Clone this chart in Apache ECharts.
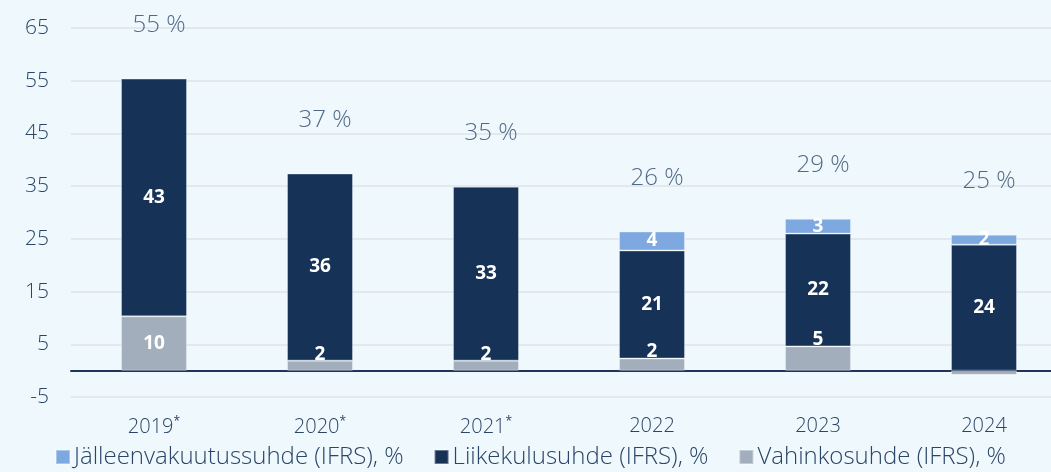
<!DOCTYPE html>
<html>
<head>
<meta charset="utf-8">
<script src="https://cdn.jsdelivr.net/npm/echarts@6/dist/echarts.min.js"></script>
<style>
  html, body { margin: 0; padding: 0; background: #eef8fd; }
  #chart { width: 1051px; height: 472px; }
</style>
</head>
<body>
<div id="chart"></div>
<script>
// Data
const years = ['2019*', '2020*', '2021*', '2022', '2023', '2024'];
const lossRatio = [10.3, 1.9, 1.9, 2.3, 4.6, -0.8];        // Vahinkosuhde
const expenseRatio = [45.1, 35.5, 33.0, 20.5, 21.4, 23.9];  // Liikekulusuhde
const reinsRatio = [null, null, null, 3.6, 2.8, 1.9];       // Jälleenvakuutussuhde
const lossLabels = ['10', '2', '2', '2', '5', ''];
const expenseLabels = ['43', '36', '33', '21', '22', '24'];
const reinsLabels = ['', '', '', '4', '3', '2'];
const totalLabels = ['55 %', '37 %', '35 %', '26 %', '29 %', '25 %'];
const yTicks = [-5, 5, 15, 25, 35, 45, 55, 65];

const textColor = '#2b4566';
const fontFam = '"Open Sans", Lato, sans-serif';

// top of each stacked bar, used to place the total label
const tops = years.map((y, i) => Math.max(lossRatio[i], 0) + expenseRatio[i] + (reinsRatio[i] || 0));

function barLabel(arr, extra) {
  return Object.assign({
    show: true,
    color: '#ffffff',
    fontFamily: fontFam,
    fontWeight: 'bold',
    fontSize: 19,
    formatter: p => arr[p.dataIndex]
  }, extra || {});
}

const lossData = lossRatio.map((v, i) => {
  // small bottom segments have their label sitting just above the segment
  if (v > 0 && v < 6) {
    return { value: v, label: { position: 'top', distance: -3 } };
  }
  return v;
});

const chart = echarts.init(document.getElementById('chart'));

const option = {
  backgroundColor: '#eef8fd',
  animation: false,
  grid: { left: 71, top: 28, width: 996, bottom: 75, outerBoundsMode: 'none', containLabel: false },
  legend: {
    data: ['Jälleenvakuutussuhde (IFRS), %', 'Liikekulusuhde (IFRS), %', 'Vahinkosuhde (IFRS), %'],
    bottom: -2,
    left: 50,
    icon: 'rect',
    itemWidth: 14,
    itemHeight: 14,
    itemGap: 30,
    textStyle: { color: textColor, fontFamily: fontFam, fontWeight: 300, fontSize: 24, padding: [0, 0, 0, -1] }
  },
  xAxis: {
    type: 'category',
    data: years,
    axisTick: { show: false },
    axisLine: { onZero: true, lineStyle: { color: '#1d3659', width: 2 } },
    axisLabel: {
      margin: 19,
      formatter: v => v.endsWith('*') ? '{y|' + v.slice(0, -1) + '}{s|*}' : '{y|' + v + '}',
      rich: {
        y: { color: textColor, fontFamily: fontFam, fontWeight: 300, fontSize: 20 },
        s: { color: textColor, fontFamily: fontFam, fontSize: 12, verticalAlign: 'top', padding: [0, 0, 10, 0] }
      }
    }
  },
  yAxis: {
    type: 'value',
    min: yTicks[0],
    max: yTicks[yTicks.length - 1],
    interval: 10,
    axisLine: { show: false },
    axisTick: { show: false },
    axisLabel: { color: textColor, fontFamily: fontFam, fontWeight: 300, fontSize: 21, margin: 22 },
    splitLine: { lineStyle: { color: '#e2e8ec', width: 2 } }
  },
  series: [
    {
      name: 'Vahinkosuhde (IFRS), %',
      type: 'bar',
      stack: 'ratio',
      barWidth: 66,
      itemStyle: { color: '#a2aebb', borderColor: 'rgba(255,255,255,0.35)', borderWidth: 1 },
      label: barLabel(lossLabels, { position: 'inside' }),
      data: lossData
    },
    {
      name: 'Liikekulusuhde (IFRS), %',
      type: 'bar',
      stack: 'ratio',
      barWidth: 66,
      itemStyle: { color: '#163257', borderColor: 'rgba(255,255,255,0.35)', borderWidth: 1 },
      label: barLabel(expenseLabels, { position: 'inside' }),
      data: expenseRatio
    },
    {
      name: 'Jälleenvakuutussuhde (IFRS), %',
      type: 'bar',
      stack: 'ratio',
      barWidth: 66,
      itemStyle: { color: '#7da8e0', borderColor: 'rgba(255,255,255,0.35)', borderWidth: 1 },
      label: barLabel(reinsLabels, { position: 'inside' }),
      data: reinsRatio
    },
    {
      name: 'total',
      type: 'scatter',
      symbolSize: 1,
      itemStyle: { color: 'rgba(0,0,0,0)' },
      label: {
        show: true,
        position: 'top',
        distance: 41,
        offset: [5, 0],
        color: textColor,
        fontFamily: fontFam,
        fontWeight: 300,
        fontSize: 24,
        formatter: p => totalLabels[p.dataIndex]
      },
      data: tops
    }
  ]
};

chart.setOption(option);
</script>
</body>
</html>
